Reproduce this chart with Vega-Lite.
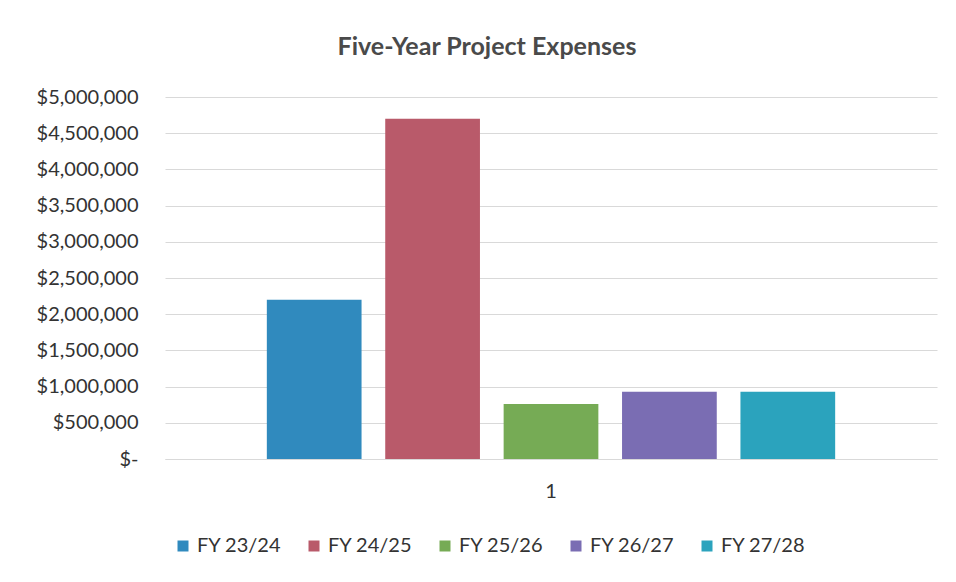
{
  "$schema": "https://vega.github.io/schema/vega-lite/v6.json",
  "width": 772,
  "height": 362,
  "autosize": {"type": "none"},
  "padding": {"left": 165, "top": 97, "right": 19, "bottom": 123},
  "background": "white",
  "title": {
    "text": "Five-Year Project Expenses",
    "font": "Lato",
    "fontSize": 25,
    "fontWeight": "bold",
    "color": "#4a4a4a",
    "anchor": "middle",
    "dx": -64,
    "offset": 27
  },
  "data": {
    "values": [
      {"cat": "1", "year": "FY 23/24", "amount": 2200000},
      {"cat": "1", "year": "FY 24/25", "amount": 4700000},
      {"cat": "1", "year": "FY 25/26", "amount": 760000},
      {"cat": "1", "year": "FY 26/27", "amount": 930000},
      {"cat": "1", "year": "FY 27/28", "amount": 930000}
    ]
  },
  "mark": {"type": "bar"},
  "encoding": {
    "x": {
      "field": "cat",
      "type": "nominal",
      "scale": {"paddingInner": 0, "paddingOuter": 0.152},
      "axis": {
        "title": null,
        "labelAngle": 0,
        "labelFont": "Lato",
        "labelFontSize": 20,
        "labelColor": "#333333",
        "labelPadding": 22,
        "ticks": false,
        "domainColor": "#d9d9d9",
        "domainWidth": 1
      }
    },
    "xOffset": {
      "field": "year",
      "type": "nominal",
      "scale": {"paddingInner": 0.2, "paddingOuter": 0.1}
    },
    "y": {
      "field": "amount",
      "type": "quantitative",
      "scale": {"domain": [0, 5000000]},
      "axis": {
        "title": null,
        "values": [0, 500000, 1000000, 1500000, 2000000, 2500000, 3000000, 3500000, 4000000, 4500000, 5000000],
        "labelExpr": "datum.value == 0 ? '$-\u2003\u2002' : '$' + format(datum.value, ',')",
        "labelFont": "Lato",
        "labelFontSize": 20,
        "labelColor": "#333333",
        "labelPadding": 27,
        "ticks": false,
        "domain": false,
        "gridColor": "#d9d9d9",
        "gridWidth": 1
      }
    },
    "color": {
      "field": "year",
      "type": "nominal",
      "scale": {
        "domain": ["FY 23/24", "FY 24/25", "FY 25/26", "FY 26/27", "FY 27/28"],
        "range": ["#308abe", "#b95a6a", "#76ab55", "#7a6db3", "#2ba3bd"]
      },
      "legend": {
        "title": null,
        "orient": "none",
        "direction": "horizontal",
        "legendX": 8,
        "legendY": 439,
        "symbolType": "square",
        "symbolSize": 121,
        "symbolStrokeWidth": 0,
        "labelFont": "Lato",
        "labelFontSize": 20,
        "labelColor": "#333333",
        "labelOffset": 4,
        "columnPadding": 22
      }
    }
  },
  "config": {
    "view": {"stroke": null}
  }
}
